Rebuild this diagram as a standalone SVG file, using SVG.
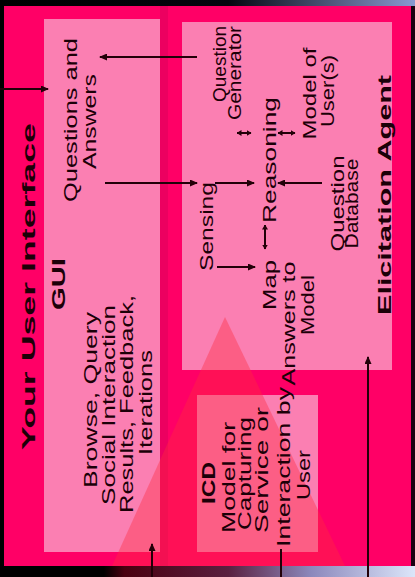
<svg xmlns="http://www.w3.org/2000/svg" width="415" height="577" viewBox="0 0 415 577">
  <defs>
    <linearGradient id="gTop" x1="0" y1="0" x2="1" y2="0">
      <stop offset="0" stop-color="#000000"/>
      <stop offset="0.55" stop-color="#05050f"/>
      <stop offset="1" stop-color="#8a9ad2"/>
    </linearGradient>
    <linearGradient id="gBot" x1="0" y1="0" x2="1" y2="0">
      <stop offset="0" stop-color="#000000"/>
      <stop offset="0.25" stop-color="#000000"/>
      <stop offset="0.3" stop-color="#4a0010"/>
      <stop offset="0.55" stop-color="#5a2040"/>
      <stop offset="0.75" stop-color="#8c88bc"/>
      <stop offset="1" stop-color="#dce6fa"/>
    </linearGradient>
    <marker id="ah" viewBox="0 0 8 7" refX="7" refY="3.5" markerWidth="8" markerHeight="7" markerUnits="userSpaceOnUse" orient="auto-start-reverse">
      <path d="M0,0 L8,3.5 L0,7 z" fill="#220008"/>
    </marker>
    <marker id="ahs" viewBox="0 0 5 6" refX="4.5" refY="3" markerWidth="5" markerHeight="6" markerUnits="userSpaceOnUse" orient="auto-start-reverse">
      <path d="M0,0 L5,3 L0,6 z" fill="#220008"/>
    </marker>
  </defs>
  <style>
    .panel { fill: #fb7fb2; }
    .t { font-family: "Liberation Sans", Arial, sans-serif; font-size: 19px; fill: #1c0008; text-anchor: middle; }
    .b { font-weight: bold; }
    .ln { stroke: #220008; stroke-width: 2; fill: none; }
  </style>

  <!-- background -->
  <rect x="0" y="0" width="415" height="577" fill="#000"/>
  <rect x="0" y="0" width="415" height="6" fill="url(#gTop)"/>
  <rect x="0" y="566" width="415" height="11" fill="url(#gBot)"/>
  <rect x="411" y="6" width="4" height="560" fill="#1a0010"/>

  <!-- outer frame -->
  <rect x="4" y="6" width="407" height="560" fill="#ff0066"/>
  <rect x="160" y="6" width="8" height="560" fill="#ec0060"/>

  <!-- panels -->
  <g id="gui-panel">
    <rect class="panel" x="44" y="19" width="116" height="533"/>
  </g>
  <g id="elicitation-panel">
    <rect class="panel" x="182" y="22" width="210" height="348"/>
  </g>
  <g id="icd-panel">
    <rect class="panel" x="197" y="395" width="121" height="157"/>
  </g>

  <!-- translucent triangle -->
  <polygon points="225,317 112,566 345,566" fill="#ff2a3c" opacity="0.38"/>

  <!-- title -->
  <g id="your-user-interface">
    <text class="t b" font-size="27" textLength="327" lengthAdjust="spacingAndGlyphs" transform="translate(35,286.5) rotate(-90)">Your User Interface</text>
  </g>

  <g id="gui">
    <text class="t b" font-size="21" textLength="52" lengthAdjust="spacingAndGlyphs" transform="translate(65,284) rotate(-90)">GUI</text>
  </g>

  <g id="questions-answers">
    <text class="t" textLength="164" lengthAdjust="spacingAndGlyphs" transform="translate(77,120) rotate(-90)">Questions and</text>
    <text class="t" textLength="95" lengthAdjust="spacingAndGlyphs" transform="translate(96,121.5) rotate(-90)">Answers</text>
  </g>

  <g id="browse">
    <text class="t" textLength="176" lengthAdjust="spacingAndGlyphs" transform="translate(97,400) rotate(-90)">Browse, Query</text>
    <text class="t" textLength="200" lengthAdjust="spacingAndGlyphs" transform="translate(115,405) rotate(-90)">Social Interaction</text>
    <text class="t" textLength="218" lengthAdjust="spacingAndGlyphs" transform="translate(133,404) rotate(-90)">Results, Feedback,</text>
    <text class="t" textLength="105" lengthAdjust="spacingAndGlyphs" transform="translate(152,402.5) rotate(-90)">Iterations</text>
  </g>

  <g id="question-generator">
    <text class="t" textLength="76" lengthAdjust="spacingAndGlyphs" transform="translate(226,64) rotate(-90)">Question</text>
    <text class="t" textLength="94" lengthAdjust="spacingAndGlyphs" transform="translate(241,73) rotate(-90)">Generator</text>
  </g>

  <g id="reasoning">
    <text class="t" textLength="126" lengthAdjust="spacingAndGlyphs" transform="translate(276,160) rotate(-90)">Reasoning</text>
  </g>

  <g id="model-of-users">
    <text class="t" textLength="92" lengthAdjust="spacingAndGlyphs" transform="translate(316,93.5) rotate(-90)">Model of</text>
    <text class="t" textLength="72" lengthAdjust="spacingAndGlyphs" transform="translate(334,91) rotate(-90)">User(s)</text>
  </g>

  <g id="sensing">
    <text class="t" textLength="89" lengthAdjust="spacingAndGlyphs" transform="translate(213,226.5) rotate(-90)">Sensing</text>
  </g>

  <g id="question-database">
    <text class="t" textLength="96" lengthAdjust="spacingAndGlyphs" transform="translate(344,203.5) rotate(-90)">Question</text>
    <text class="t" textLength="90" lengthAdjust="spacingAndGlyphs" transform="translate(358,203.5) rotate(-90)">Database</text>
  </g>

  <g id="map-answers">
    <text class="t" textLength="50" lengthAdjust="spacingAndGlyphs" transform="translate(276,285) rotate(-90)">Map</text>
    <text class="t" textLength="124" lengthAdjust="spacingAndGlyphs" transform="translate(295,323.5) rotate(-90)">Answers to</text>
    <text class="t" textLength="60" lengthAdjust="spacingAndGlyphs" transform="translate(314,305) rotate(-90)">Model</text>
  </g>

  <g id="elicitation-agent">
    <text class="t b" font-size="23" textLength="240" lengthAdjust="spacingAndGlyphs" transform="translate(391,195) rotate(-90)">Elicitation Agent</text>
  </g>

  <g id="icd">
    <text class="t b" font-size="19" textLength="42" lengthAdjust="spacingAndGlyphs" transform="translate(215,483) rotate(-90)">ICD</text>
    <text class="t" textLength="111" lengthAdjust="spacingAndGlyphs" transform="translate(235,477.5) rotate(-90)">Model for</text>
    <text class="t" textLength="113" lengthAdjust="spacingAndGlyphs" transform="translate(251,473.5) rotate(-90)">Capturing</text>
    <text class="t" textLength="126" lengthAdjust="spacingAndGlyphs" transform="translate(268,470) rotate(-90)">Service or</text>
    <text class="t" textLength="160" lengthAdjust="spacingAndGlyphs" transform="translate(290,467) rotate(-90)">Interaction by</text>
    <text class="t" textLength="50" lengthAdjust="spacingAndGlyphs" transform="translate(310,475) rotate(-90)">User</text>
  </g>

  <!-- connectors -->
  <g id="connectors">
    <line class="ln" x1="0" y1="89" x2="48" y2="89" marker-end="url(#ah)"/>
    <line class="ln" x1="197" y1="57" x2="100" y2="57" marker-end="url(#ah)"/>
    <line class="ln" x1="105" y1="183" x2="197" y2="183" marker-end="url(#ah)"/>
    <line class="ln" x1="215" y1="183" x2="254" y2="183" marker-end="url(#ah)"/>
    <line class="ln" x1="322" y1="183" x2="278" y2="183" marker-end="url(#ah)"/>
    <line class="ln" x1="217" y1="267" x2="255" y2="267" marker-end="url(#ah)"/>
    <line class="ln" x1="265" y1="249" x2="265" y2="225" marker-start="url(#ahs)" marker-end="url(#ahs)"/>
    <line class="ln" x1="237" y1="133" x2="251" y2="133" marker-start="url(#ahs)" marker-end="url(#ahs)"/>
    <line class="ln" x1="278" y1="133" x2="295" y2="133" marker-start="url(#ahs)" marker-end="url(#ahs)"/>
    <line class="ln" x1="152" y1="577" x2="152" y2="544" marker-end="url(#ah)"/>
    <line class="ln" x1="281" y1="577" x2="281" y2="549"/>
    <line class="ln" x1="368" y1="577" x2="368" y2="357" marker-end="url(#ah)"/>
  </g>
</svg>
